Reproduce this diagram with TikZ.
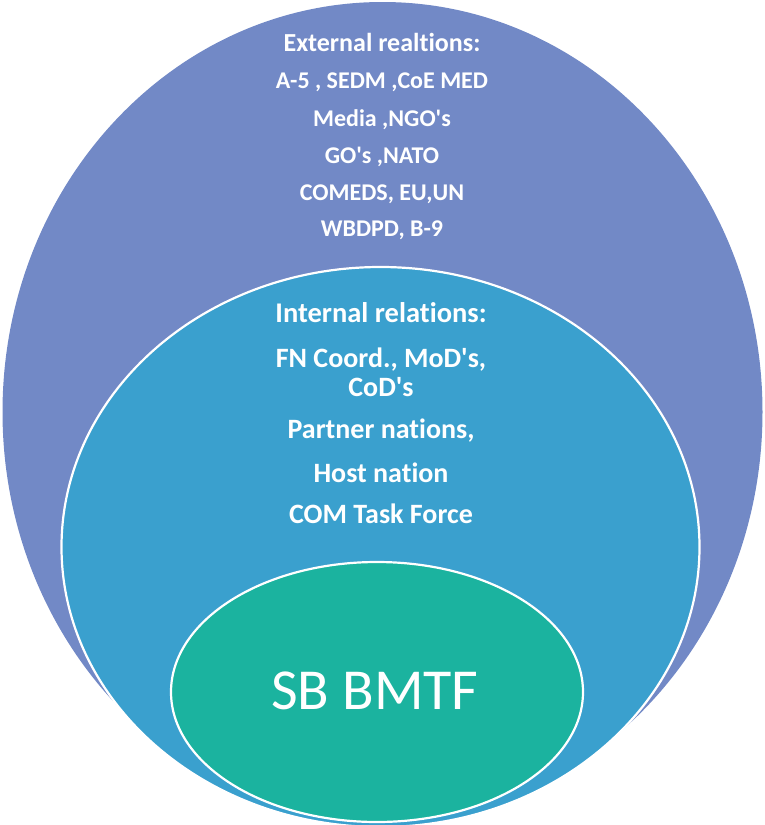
\documentclass[tikz,border=0pt]{standalone}
\usepackage{fontspec}
\setmainfont{Carlito}[Ligatures={NoCommon}]
\definecolor{outerc}{RGB}{114,137,198}
\definecolor{midc}{RGB}{58,160,206}
\definecolor{innerc}{RGB}{27,179,159}
\newcommand{\sq}{\textquotesingle}
\tikzset{
  lbl/.style={text=white, anchor=base, inner sep=0pt, font=\fontsize{24}{28}\selectfont\bfseries},
  lbltitle/.style={lbl, font=\fontsize{26}{30}\selectfont\bfseries},
  ilbl/.style={lbl, font=\fontsize{28}{32}\selectfont\bfseries},
  ilbltitle/.style={lbl, font=\fontsize{28.5}{32}\selectfont\bfseries},
  big/.style={text=white, anchor=base, inner sep=0pt, font=\fontsize{58}{60}\selectfont},
  ring/.style={draw=white, line width=2.2pt}
}
\begin{document}
\begin{tikzpicture}[x=1pt,y=-1pt]
\useasboundingbox (0,0) rectangle (765,825);
\begin{scope}
\clip (0,0) rectangle (765,825);
\fill[outerc] (382.5,412) ellipse [x radius=380pt, y radius=410pt];
\filldraw[fill=midc, ring] (380.5,547) ellipse [x radius=319pt, y radius=280pt];
\filldraw[fill=innerc, ring] (377,692) ellipse [x radius=206pt, y radius=130pt];
\end{scope}
\node[lbltitle] (e0) at (382,51) {External realtions:};
\node[lbl] (e1) at (382,88) {A-5 , SEDM ,CoE MED};
\node[lbl] (e2) at (382,126) {Media ,NGO\sq s};
\node[lbl] (e3) at (382,163) {GO\sq s ,NATO};
\node[lbl] (e4) at (382,200) {COMEDS, EU,UN};
\node[lbl] (e5) at (382,236) {WBDPD, B-9};
\node[ilbltitle] (i0) at (381,322) {Internal relations:};
\node[ilbl] (i1) at (381,367) {FN Coord., MoD\sq s,};
\node[ilbl] (i2) at (381,396) {CoD\sq s};
\node[ilbl] (i3) at (381,438) {Partner nations,};
\node[ilbl] (i4) at (381,482) {Host nation};
\node[ilbl] (i5) at (381,523) {COM Task Force};
\node[big] (sb) at (375,709) {SB BMTF};
\end{tikzpicture}
\end{document}
